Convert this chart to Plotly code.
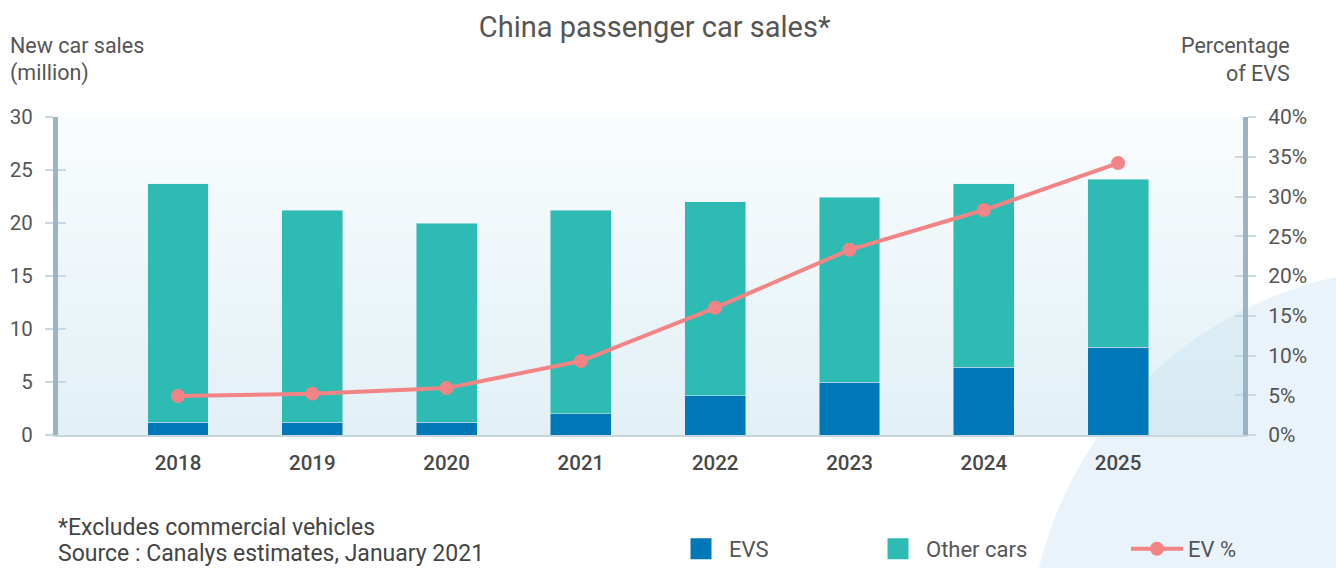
import plotly.graph_objects as go

years = ["2018", "2019", "2020", "2021", "2022", "2023", "2024", "2025"]
evs = [1.2, 1.2, 1.2, 2.0, 3.7, 5.0, 6.4, 8.3]
totals = [23.7, 21.2, 20.0, 21.2, 22.0, 22.45, 23.7, 24.15]
others = [round(t - e, 2) for t, e in zip(totals, evs)]
ev_pct = [0.049, 0.052, 0.059, 0.093, 0.160, 0.233, 0.283, 0.342]

left_ticks = [0, 5, 10, 15, 20, 25, 30]
right_ticks = [0, 0.05, 0.10, 0.15, 0.20, 0.25, 0.30, 0.35, 0.40]

C_EV = "#0078b8"
C_OTHER = "#2ebbb3"
C_LINE = "#f28486"
C_AXIS = "#9bb4c2"
C_TICK = "#c9d9e1"
C_TEXT = "#555555"
FONT = "Roboto"

fig = go.Figure()

fig.add_trace(go.Bar(x=years, y=evs, name="EVS", marker_color=C_EV, width=0.454,
                     showlegend=False, yaxis="y"))
fig.add_trace(go.Bar(x=years, y=others, name="Other cars", marker_color=C_OTHER, width=0.454,
                     showlegend=False, yaxis="y"))
fig.add_trace(go.Scatter(x=years, y=ev_pct, name="EV %", mode="lines+markers", yaxis="y2",
                         line=dict(color=C_LINE, width=4), marker=dict(size=14, color=C_LINE),
                         legend="legend3"))
# legend entries for the bars (bigger square symbols)
fig.add_trace(go.Scatter(x=[None], y=[None], name="EVS", mode="markers", yaxis="y",
                         marker=dict(symbol="square", size=16, color=C_EV, line=dict(color=C_EV, width=5)),
                         legend="legend"))
fig.add_trace(go.Scatter(x=[None], y=[None], name="Other cars", mode="markers", yaxis="y",
                         marker=dict(symbol="square", size=16, color=C_OTHER, line=dict(color=C_OTHER, width=5)),
                         legend="legend2"))

L, R, T, B = 58, 93, 117, 133
W, H = 1336, 568
pw, ph = W - L - R, H - T - B

def px_x(px):
    return (px - L) / pw

def px_y(py):
    return (H - B - py) / ph

shapes = []
# background gradient in plot area
n = 40
top_c = (249, 252, 253)
bot_c = (226, 240, 246)
for i in range(n):
    f = i / (n - 1)
    c = tuple(round(bot_c[k] + (top_c[k] - bot_c[k]) * f) for k in range(3))
    shapes.append(dict(type="rect", xref="paper", yref="paper", x0=0, x1=1,
                       y0=i / n, y1=(i + 1) / n + 0.002, fillcolor="rgb(%d,%d,%d)" % c,
                       line=dict(width=0), layer="below"))
# decorative circle
cx, cy, r = 1420, 660, 392
shapes.append(dict(type="circle", xref="paper", yref="paper",
                   x0=px_x(cx - r), x1=px_x(cx + r), y0=px_y(cy + r), y1=px_y(cy - r),
                   fillcolor="rgba(200,225,240,0.4)", line=dict(width=0), layer="below"))

leg_y = px_y(549)
leg_font = dict(size=22, color=C_TEXT, family=FONT)

fig.update_layout(
    width=W, height=H,
    margin=dict(l=L, r=R, t=T, b=B, autoexpand=False),
    paper_bgcolor="white",
    plot_bgcolor="rgba(0,0,0,0)",
    barmode="stack",
    font=dict(family=FONT, color=C_TEXT),
    title=dict(text="China passenger car sales*", x=0.49, xanchor="center",
               y=1 - 27 / H, yanchor="middle", font=dict(size=29, color=C_TEXT, family=FONT)),
    xaxis=dict(type="category", range=[-0.8935, 7.93], showgrid=False, zeroline=False,
               showline=True, linecolor="#c8d6de", linewidth=2, ticks="",
               tickfont=dict(size=20.5, color="#484848", family=FONT, weight=500),
               ticklabelstandoff=8),
    yaxis=dict(range=[0, 30], tickvals=left_ticks, showgrid=False, zeroline=False,
               showline=True, linecolor=C_AXIS, linewidth=5,
               ticks="outside", ticklen=8, tickwidth=2, tickcolor=C_TICK,
               tickfont=dict(size=20.5, color=C_TEXT, family=FONT), ticklabelstandoff=8),
    yaxis2=dict(range=[0, 0.4], tickvals=right_ticks, tickformat=".0%", overlaying="y", side="right",
                showgrid=False, zeroline=False, showline=True, linecolor=C_AXIS, linewidth=5,
                ticks="outside", ticklen=8, tickwidth=2, tickcolor=C_TICK,
                tickfont=dict(size=21, color=C_TEXT, family=FONT), ticklabelstandoff=8),
    yaxis3=dict(range=[0, 30], tickvals=left_ticks, overlaying="y", side="left",
                showgrid=False, zeroline=False, showline=False, showticklabels=False,
                ticks="inside", ticklen=8, tickwidth=2, tickcolor=C_TICK),
    yaxis4=dict(range=[0, 0.4], tickvals=right_ticks, overlaying="y", side="right",
                showgrid=False, zeroline=False, showline=False, showticklabels=False,
                ticks="inside", ticklen=8, tickwidth=2, tickcolor=C_TICK),
    shapes=shapes,
    legend=dict(orientation="h", x=px_x(673), xanchor="left", y=leg_y, yanchor="middle",
                itemwidth=46, font=leg_font, bgcolor="rgba(0,0,0,0)"),
    legend2=dict(orientation="h", x=px_x(870), xanchor="left", y=leg_y, yanchor="middle",
                 itemwidth=46, font=leg_font, bgcolor="rgba(0,0,0,0)"),
    legend3=dict(orientation="h", x=px_x(1126), xanchor="left", y=leg_y, yanchor="middle",
                 itemwidth=52, font=leg_font, bgcolor="rgba(0,0,0,0)"),
)

# dummy traces to activate inside tick axes
fig.add_trace(go.Scatter(x=[None], y=[None], yaxis="y3", showlegend=False, hoverinfo="skip"))
fig.add_trace(go.Scatter(x=[None], y=[None], yaxis="y4", showlegend=False, hoverinfo="skip"))

annots = [
    dict(text="New car sales", x=px_x(8), y=px_y(45), xanchor="left"),
    dict(text="(million)", x=px_x(8), y=px_y(73), xanchor="left"),
    dict(text="Percentage", x=px_x(1292), y=px_y(45), xanchor="right"),
    dict(text="of EVS", x=px_x(1292), y=px_y(73), xanchor="right"),
    dict(text="*Excludes commercial vehicles", x=px_x(56), y=px_y(527), xanchor="left", color="#444444", size=23),
    dict(text="Source : Canalys estimates, January 2021", x=px_x(56), y=px_y(553), xanchor="left", color="#444444", size=23),
]
for a in annots:
    fig.add_annotation(text=a["text"], x=a["x"], y=a["y"], xref="paper", yref="paper",
                       xanchor=a["xanchor"], yanchor="middle", showarrow=False,
                       font=dict(size=a.get("size", 21.5), color=a.get("color", C_TEXT), family=FONT,
                                 weight=a.get("weight", 400)))

fig.write_html("out.html")
